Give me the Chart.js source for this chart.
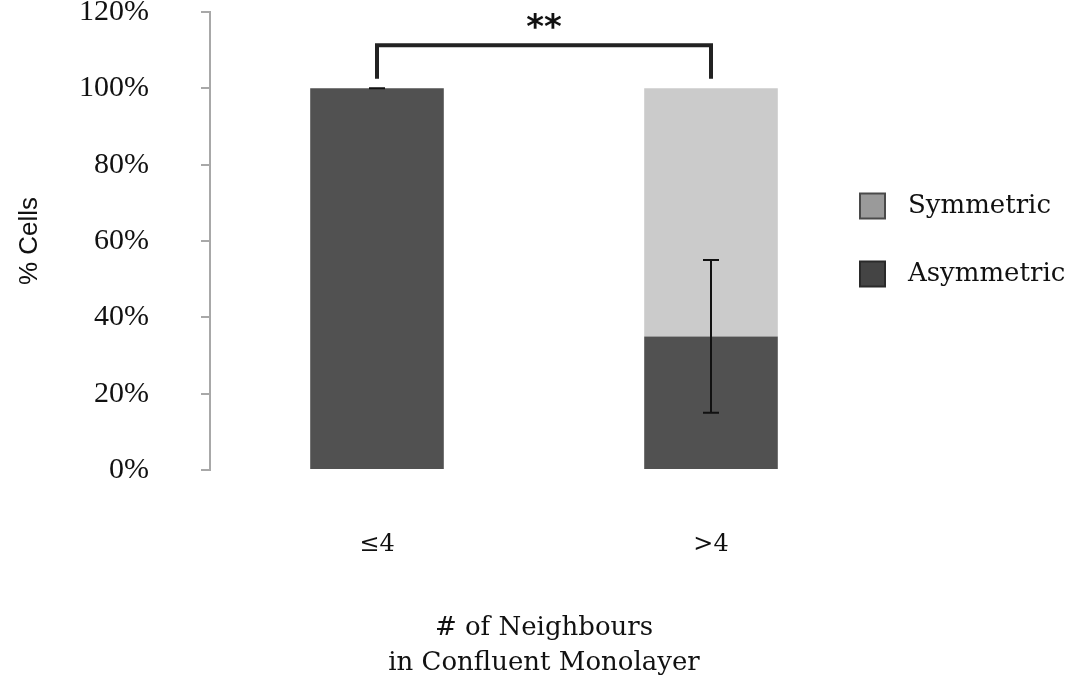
<!DOCTYPE html>
<html>
<head>
<meta charset="utf-8">
<script src="https://cdn.jsdelivr.net/npm/chart.js@4.4.1/dist/chart.umd.min.js"></script>
<style>
  html, body { margin: 0; padding: 0; background: #fff; }
  #wrap { width: 1087px; height: 685px; }
</style>
</head>
<body>
<div id="wrap"><canvas id="chart"></canvas></div>
<script>
// datos
const categories = ['≤4', '>4'];
const asymmetric = [100, 35];
const symmetric = [0, 65];
const asymmetricErr = [0, 20];
const yTicks = [0, 20, 40, 60, 80, 100, 120];
const seriesNames = ['Asymmetric', 'Symmetric'];
const xTitle = ['# of Neighbours', 'in Confluent Monolayer'];

const barColors = ['#515151', '#cbcbcb'];
const legendFill = ['#444444', '#9a9a9a'];
const legendBorder = ['#2a2a2a', '#4a4a4a'];

// error bars, significance bracket and legend
const extrasPlugin = {
    id: 'extras',
    afterDatasetsDraw(chart) {
        const ctx = chart.ctx;
        const x = chart.scales.x;
        const y = chart.scales.y;

        // error bars on the asymmetric segment
        ctx.save();
        ctx.strokeStyle = '#111';
        ctx.lineWidth = 2;
        asymmetric.forEach((v, i) => {
            const cx = x.getPixelForValue(i);
            const top = y.getPixelForValue(v + asymmetricErr[i]);
            const bot = y.getPixelForValue(v - asymmetricErr[i]);
            ctx.beginPath();
            ctx.moveTo(cx, top);
            ctx.lineTo(cx, bot);
            ctx.moveTo(cx - 8, top);
            ctx.lineTo(cx + 8, top);
            ctx.moveTo(cx - 8, bot);
            ctx.lineTo(cx + 8, bot);
            ctx.stroke();
        });
        ctx.restore();

        // bracket **
        const x1 = x.getPixelForValue(0);
        const x2 = x.getPixelForValue(1);
        const yTop = y.getPixelForValue(111.3);
        const yFoot = y.getPixelForValue(102.5);
        ctx.save();
        ctx.strokeStyle = '#222';
        ctx.lineWidth = 4;
        ctx.lineJoin = 'miter';
        ctx.beginPath();
        ctx.moveTo(x1, yFoot);
        ctx.lineTo(x1, yTop);
        ctx.lineTo(x2, yTop);
        ctx.lineTo(x2, yFoot);
        ctx.stroke();
        ctx.fillStyle = '#111';
        ctx.font = 'bold 34px "DejaVu Sans"';
        ctx.textAlign = 'center';
        ctx.textBaseline = 'alphabetic';
        ctx.fillText('**', (x1 + x2) / 2, 38);
        ctx.restore();

        // legend (Symmetric on top)
        ctx.save();
        ctx.font = '26px "DejaVu Serif"';
        ctx.textBaseline = 'middle';
        ctx.textAlign = 'left';
        const order = [1, 0];
        order.forEach((k, row) => {
            const cy = 205.5 + row * 68;
            ctx.fillStyle = legendFill[k];
            ctx.fillRect(860, cy - 12, 25, 25);
            ctx.strokeStyle = legendBorder[k];
            ctx.lineWidth = 2;
            ctx.strokeRect(860, cy - 12, 25, 25);
            ctx.fillStyle = '#111';
            ctx.fillText(seriesNames[k], 908, cy + 1);
        });
        ctx.restore();
    }
};

new Chart(document.getElementById('chart'), {
    type: 'bar',
    data: {
        labels: categories,
        datasets: [
            {
                label: seriesNames[0],
                data: asymmetric,
                backgroundColor: barColors[0],
                barPercentage: 0.4,
                categoryPercentage: 1
            },
            {
                label: seriesNames[1],
                data: symmetric,
                backgroundColor: barColors[1],
                barPercentage: 0.4,
                categoryPercentage: 1
            }
        ]
    },
    options: {
        responsive: true,
        maintainAspectRatio: false,
        animation: false,
        layout: { padding: { top: 12, right: 209, left: 0, bottom: 0 } },
        plugins: {
            legend: { display: false },
            tooltip: { enabled: false }
        },
        scales: {
            x: {
                stacked: true,
                grid: { display: false },
                border: { display: false },
                ticks: {
                    color: '#111',
                    padding: 52,
                    font: { family: '"DejaVu Serif"', size: 24 }
                },
                title: {
                    display: true,
                    text: xTitle,
                    color: '#111',
                    padding: { top: 0, bottom: 4 },
                    font: { family: '"DejaVu Serif"', size: 26, lineHeight: 1.35 }
                },
                afterFit: scale => {
                    scale.height = 215;
                    scale.paddingLeft = 0;
                    scale.paddingRight = 0;
                }
            },
            y: {
                stacked: true,
                min: 0,
                max: 120,
                afterBuildTicks: scale => {
                    scale.ticks = yTicks.map(v => ({ value: v }));
                },
                grid: {
                    drawOnChartArea: false,
                    drawTicks: true,
                    tickLength: 9,
                    tickColor: '#a8a8a8',
                    lineWidth: 2
                },
                border: { color: '#a8a8a8', width: 2 },
                ticks: {
                    color: '#111',
                    padding: 52,
                    font: { family: '"Liberation Serif"', size: 30 },
                    callback: v => v + '%'
                },
                title: {
                    display: true,
                    text: '% Cells',
                    color: '#111',
                    padding: { top: 17, bottom: 0 },
                    font: { family: '"Liberation Sans"', size: 26, lineHeight: 1 }
                },
                afterFit: scale => {
                    scale.width = 210;
                    scale.paddingTop = 0;
                    scale.paddingBottom = 0;
                }
            }
        }
    },
    plugins: [extrasPlugin]
});
</script>
</body>
</html>
